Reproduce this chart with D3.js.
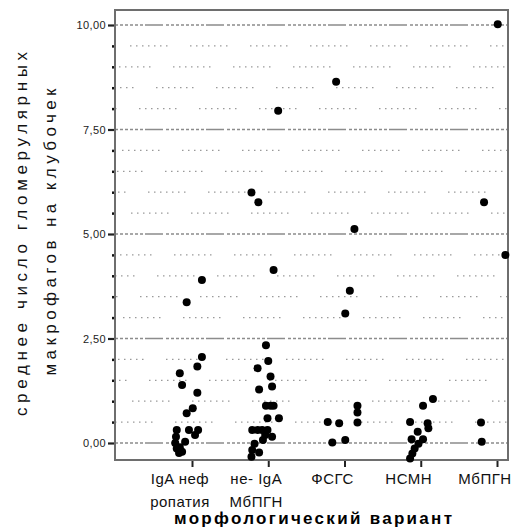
<!DOCTYPE html>
<html>
<head>
<meta charset="utf-8">
<script src="https://cdn.jsdelivr.net/npm/d3@7"></script>
<style>
  body { margin: 0; background: #fff; }
  svg { display: block; font-family: "Liberation Sans", Arial, sans-serif; }
</style>
</head>
<body>
<div class="chart"></div>
<script>
// categories on the x axis (two text lines each)
let categories = ["IgA нефропатия", "не-IgA МбПГН", "ФСГС", "НСМН", "МбПГН"];
let catLines = [["IgA неф", "ропатия"], ["не- IgA", "МбПГН"], ["ФСГС"], ["НСМН"], ["МбПГН"]];

// y tick labels
let majorTicks = [0, 2.5, 5, 7.5, 10];
let majorLabels = ["0,00", "2,50", "5,00", "7,50", "10,00"];

// values per group, jitter is in fractions of the category step
let igaVals = [3.90, 3.37, 2.06, 1.83, 1.67, 1.39, 1.20, 0.83, 0.71, 0.31, 0.31, 0.31, 0.19, 0.15, 0.03, 0.00, -0.10, -0.13, -0.21, -0.24];
let igaJit  = [0.13, -0.07, 0.13, 0.07, -0.16, -0.13, 0.07, 0.01, -0.07, -0.20, -0.04, 0.08, 0.04, -0.21, -0.09, -0.22, -0.16, -0.20, -0.13, -0.17];

let nonIgaVals = [7.95, 5.99, 5.76, 4.14, 2.34, 1.96, 1.79, 1.59, 1.35, 1.28, 0.89, 0.89, 0.89, 0.59, 0.59, 0.31, 0.31, 0.31, 0.31, 0.19, 0.15, 0.07, -0.02, -0.17, -0.23, -0.33];
let nonIgaJit  = [0.13, -0.22, -0.13, 0.07, -0.03, 0.00, -0.14, 0.03, 0.05, -0.12, -0.03, 0.03, 0.07, -0.01, 0.14, -0.21, -0.14, -0.08, -0.01, -0.04, 0.05, -0.07, -0.18, -0.21, -0.12, -0.22];

let fsgsVals = [8.64, 5.12, 3.64, 3.10, 0.89, 0.73, 0.50, 0.49, 0.47, 0.07, 0.01];
let fsgsJit  = [-0.11, 0.13, 0.07, 0.01, 0.17, 0.17, -0.22, 0.17, -0.07, 0.01, -0.16];

let nsmnVals = [1.05, 0.89, 0.50, 0.47, 0.35, 0.27, 0.09, 0.09, -0.02, -0.13, -0.25, -0.37];
let nsmnJit  = [0.16, 0.03, -0.14, 0.09, 0.10, -0.04, -0.12, 0.03, -0.03, -0.08, -0.11, -0.14];

let mbpgnVals = [10.02, 5.76, 4.50, 0.49, 0.03];
let mbpgnJit  = [0.01, -0.17, 0.11, -0.21, -0.20];

let groups = [
  {cat: categories[0], vals: igaVals, jit: igaJit},
  {cat: categories[1], vals: nonIgaVals, jit: nonIgaJit},
  {cat: categories[2], vals: fsgsVals, jit: fsgsJit},
  {cat: categories[3], vals: nsmnVals, jit: nsmnJit},
  {cat: categories[4], vals: mbpgnVals, jit: mbpgnJit}
];

let points = [];
groups.forEach(g => {
  g.vals.forEach((v, i) => points.push({cat: g.cat, value: v, jit: g.jit[i]}));
});

let margin = {top: 10, left: 115},
  width = 393,
  height = 450;

let svg = d3.select(".chart")
  .append("svg")
  .attr("width", 515)
  .attr("height", 529);

let g = svg.append("g")
  .attr("transform", "translate(" + margin.left + "," + margin.top + ")");

let x = d3.scalePoint()
  .domain(categories)
  .range([77, 382]);

let y = d3.scaleLinear()
  .domain([-0.407, 10.359])
  .range([height, 0]);

// minor grid (dotted, every 0.5)
let minor = d3.range(0.5, 10, 0.5).filter(v => v % 2.5 !== 0);
g.selectAll(".minor")
  .data(minor)
  .enter().append("line")
  .attr("x1", 0).attr("x2", width)
  .attr("y1", d => y(d)).attr("y2", d => y(d))
  .attr("stroke", "#9a9a9a")
  .attr("stroke-width", 1.3)
  .attr("stroke-dasharray", "1.5,4.5,1.5,4.5,1.5,4.5,1.5,4.5,1.5,4.5,1.5,4.5,1.5,22.5")
  .attr("stroke-dashoffset", (d, i) => -((i * 17) % 60));

// major grid (dashed)
g.selectAll(".major")
  .data(majorTicks)
  .enter().append("line")
  .attr("x1", 0).attr("x2", width)
  .attr("y1", d => y(d)).attr("y2", d => y(d))
  .attr("stroke", "#8c8c8c")
  .attr("stroke-width", 1.5)
  .attr("stroke-dasharray", "18,3,3,2,3,2,3,2,3,2,3,2,3,2,3,2,3,2")
  .attr("stroke-dashoffset", -30);

// y axis: major ticks with labels, minor ticks
let yAxis = g.append("g")
  .call(d3.axisLeft(y).tickValues(majorTicks).tickSize(7).tickFormat((d, i) => majorLabels[i]));
yAxis.select(".domain").remove();
yAxis.selectAll(".tick line").attr("stroke", "#222").attr("stroke-width", 2.2);
yAxis.selectAll(".tick text")
  .attr("x", -9)
  .attr("font-size", 11)
  .attr("letter-spacing", 0.4)
  .attr("fill", "#222")
  .attr("font-family", "'Liberation Sans', Arial, sans-serif");

let yMinor = g.append("g")
  .call(d3.axisLeft(y).tickValues(minor).tickSize(3).tickFormat(""));
yMinor.select(".domain").remove();
yMinor.selectAll(".tick line").attr("stroke", "#111").attr("stroke-width", 2.5);

// x axis
let xAxis = g.append("g")
  .attr("transform", "translate(0," + height + ")")
  .call(d3.axisBottom(x).tickSize(7).tickFormat(""));
xAxis.select(".domain").remove();
xAxis.selectAll(".tick line").attr("stroke", "#222").attr("stroke-width", 2);

// category labels
let labels = g.selectAll(".catlabel")
  .data(categories)
  .enter().append("text")
  .attr("class", "catlabel")
  .attr("x", d => x(d) - 12)
  .attr("y", height + 24)
  .attr("text-anchor", "middle")
  .attr("font-size", 15)
  .attr("letter-spacing", 0.5)
  .attr("fill", "#111");
labels.selectAll("tspan")
  .data((d, i) => catLines[i])
  .enter().append("tspan")
  .attr("x", function() { return d3.select(this.parentNode).attr("x"); })
  .attr("dy", (d, i) => i === 0 ? 0 : 23)
  .text(d => d);

// frame
g.append("rect")
  .attr("x", 0).attr("y", 0)
  .attr("width", width).attr("height", height)
  .attr("fill", "none")
  .attr("stroke", "#6e6e6e")
  .attr("stroke-width", 2);

// dots
g.selectAll(".dot")
  .data(points)
  .enter().append("circle")
  .attr("cx", d => x(d.cat) + d.jit * x.step())
  .attr("cy", d => y(d.value))
  .attr("r", 4)
  .attr("fill", "#000");

// axis titles
svg.append("text")
  .attr("x", 313)
  .attr("y", 524)
  .attr("text-anchor", "middle")
  .attr("font-size", 17)
  .attr("font-weight", "bold")
  .attr("textLength", 278)
  .attr("fill", "#000")
  .text("морфологический вариант");

let yTitle = svg.append("g")
  .attr("transform", "translate(0,0)");
yTitle.append("text")
  .attr("transform", "translate(27,234) rotate(-90)")
  .attr("text-anchor", "middle")
  .attr("font-size", 17)
  .attr("textLength", 364)
  .attr("fill", "#111")
  .text("среднее число гломерулярных");
yTitle.append("text")
  .attr("transform", "translate(56,232) rotate(-90)")
  .attr("text-anchor", "middle")
  .attr("font-size", 17)
  .attr("textLength", 287)
  .attr("fill", "#111")
  .text("макрофагов на клубочек");
</script>
</body>
</html>
